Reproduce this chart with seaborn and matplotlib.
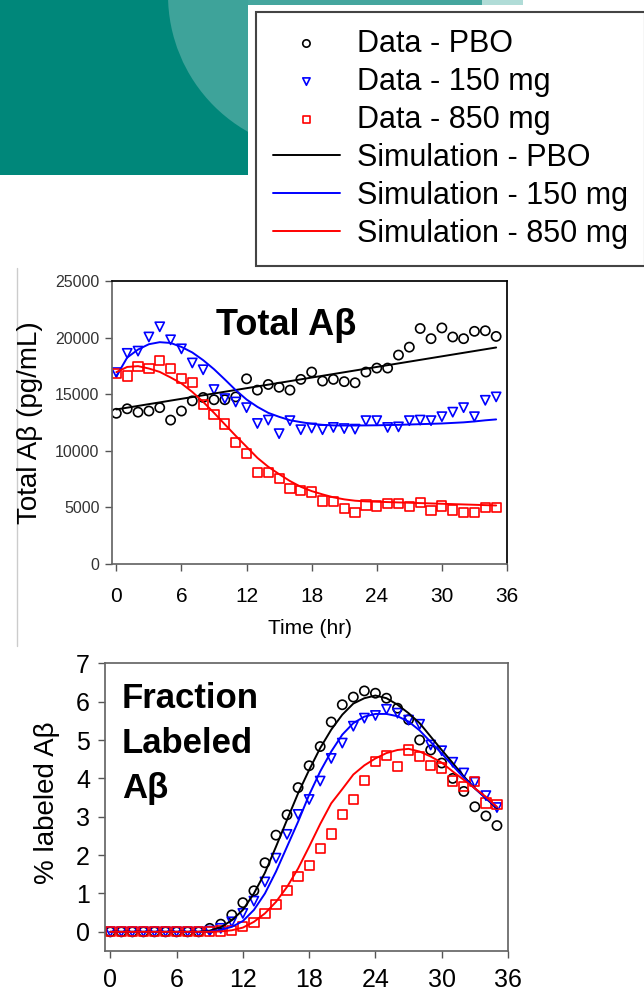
import matplotlib
matplotlib.use("Agg")
import matplotlib.pyplot as plt
from matplotlib.patches import Rectangle, Circle
import pandas as pd
import seaborn as sns

# hourly sampling times (hr)
hours = [0, 1, 2, 3, 4, 5, 6, 7, 8, 9, 10, 11, 12, 13, 14, 15, 16, 17,
         18, 19, 20, 21, 22, 23, 24, 25, 26, 27, 28, 29, 30, 31, 32, 33, 34, 35]
doses = ["PBO", "150 mg", "850 mg"]

# Total Abeta (pg/mL) - observed
tot_pbo = [13300, 13700, 13400, 13500, 13800, 12700, 13500, 14400, 14700, 14500, 14500, 14750,
           16350, 15350, 15850, 15600, 15350, 16300, 16950, 16150, 16300, 16100, 16000, 16950,
           17300, 17300, 18450, 19150, 20800, 19900, 20850, 20050, 19900, 20550, 20600, 20100]
tot_150 = [16900, 18600, 18800, 20050, 20950, 19800, 19000, 17750, 17150, 15400, 14600, 14300,
           13800, 12400, 12700, 11500, 12650, 11850, 12000, 11850, 12050, 11950, 11900, 12650,
           12650, 12050, 12100, 12650, 12700, 12650, 13000, 13400, 13800, 13000, 14450, 14750]
tot_850 = [16850, 16600, 17450, 17250, 18000, 17250, 16400, 16050, 14100, 13200, 12350, 10700,
           9750, 8050, 8050, 7500, 6650, 6500, 6350, 5550, 5500, 4850, 4550, 5200,
           5100, 5350, 5350, 5050, 5400, 4700, 5100, 4750, 4500, 4550, 4950, 4950]

# Total Abeta - simulation
sim_tot_pbo_hours = [0, 12, 24, 35]
sim_tot_pbo = [13640, 15520, 17400, 19120]
sim_tot_150 = [16580, 18230, 18940, 19410, 19590, 19520, 19170, 18680, 18000, 17200, 16290, 15350,
               14520, 13870, 13340, 12990, 12690, 12520, 12370, 12280, 12230, 12220, 12220, 12230,
               12240, 12260, 12280, 12310, 12340, 12370, 12400, 12450, 12500, 12580, 12680, 12760]
sim_tot_850 = [16940, 17400, 17470, 17260, 16960, 16470, 15940, 15190, 14310, 13340, 12320, 11310,
               10340, 9360, 8570, 7920, 7310, 6800, 6420, 6130, 5870, 5690, 5570, 5510,
               5480, 5450, 5420, 5390, 5360, 5330, 5300, 5270, 5240, 5210, 5180, 5150]

# % labeled Abeta - observed
frac_pbo = [0, 0, 0, 0, 0, 0, 0, 0, 0, 0.09, 0.20, 0.44, 0.76, 1.07, 1.80, 2.52, 3.05, 3.76,
            4.33, 4.83, 5.47, 5.92, 6.12, 6.28, 6.22, 6.09, 5.83, 5.53, 5.00, 4.74, 4.40, 4.00,
            3.66, 3.26, 3.02, 2.77]
frac_150 = [0, 0, 0, 0, 0, 0, 0, 0, 0, 0.02, 0.09, 0.26, 0.48, 0.80, 1.30, 1.92, 2.54, 3.06,
            3.45, 3.93, 4.52, 4.92, 5.36, 5.57, 5.64, 5.80, 5.70, 5.52, 5.41, 4.87, 4.72, 4.42,
            4.14, 3.90, 3.55, 3.24]
frac_850 = [0, 0, 0, 0, 0, 0, 0, 0, 0, 0, 0.02, 0.04, 0.14, 0.24, 0.47, 0.71, 1.07, 1.44,
            1.72, 2.18, 2.55, 3.05, 3.45, 3.95, 4.45, 4.59, 4.31, 4.74, 4.58, 4.34, 4.27, 3.93,
            3.78, 3.91, 3.36, 3.32]

# % labeled Abeta - simulation
sim_frac_pbo = [0, 0, 0, 0, 0, 0, 0, 0, 0, 0.03, 0.12, 0.30, 0.57, 1.00, 1.54, 2.22, 2.92, 3.61,
                4.22, 4.79, 5.27, 5.66, 5.95, 6.09, 6.16, 6.09, 5.92, 5.70, 5.44, 5.09, 4.74, 4.40,
                4.05, 3.74, 3.48, 3.22]
sim_frac_150 = [0, 0, 0, 0, 0, 0, 0, 0, 0, 0.01, 0.05, 0.13, 0.28, 0.57, 1.00, 1.57, 2.22, 2.87,
                3.57, 4.18, 4.70, 5.14, 5.44, 5.61, 5.68, 5.68, 5.62, 5.48, 5.25, 4.95, 4.65, 4.33,
                4.02, 3.74, 3.48, 3.24]
sim_frac_850 = [0, 0, 0, 0, 0, 0, 0, 0, 0, 0, 0.01, 0.04, 0.11, 0.26, 0.48, 0.78, 1.17, 1.65,
                2.22, 2.81, 3.35, 3.72, 4.10, 4.34, 4.52, 4.66, 4.74, 4.77, 4.70, 4.57, 4.41, 4.18,
                3.96, 3.74, 3.52, 3.26]

colors = {"PBO": "black", "150 mg": "#0000ff", "850 mg": "#ff0000"}
markers = {"PBO": "o", "150 mg": "v", "850 mg": "s"}

obs = pd.DataFrame({
    "hour": hours * 3,
    "dose": [d for d in doses for _ in hours],
    "total": tot_pbo + tot_150 + tot_850,
    "frac": frac_pbo + frac_150 + frac_850,
})
sim = pd.DataFrame({
    "hour": hours * 3,
    "dose": [d for d in doses for _ in hours],
    "frac": sim_frac_pbo + sim_frac_150 + sim_frac_850,
})
sim_tot = {
    "PBO": (sim_tot_pbo_hours, sim_tot_pbo),
    "150 mg": (hours, sim_tot_150),
    "850 mg": (hours, sim_tot_850),
}

sns.set_theme(style="ticks")
plt.rcParams["font.family"] = ["Liberation Sans", "DejaVu Sans"]
plt.rcParams["text.color"] = "black"
plt.rcParams["axes.labelcolor"] = "black"
plt.rcParams["xtick.labelcolor"] = "black"
plt.rcParams["ytick.labelcolor"] = "black"

W, H = 644, 993
fig = plt.figure(figsize=(W / 100, H / 100), dpi=100)

# slide background decoration
bg = fig.add_axes([0, 0, 1, 1], zorder=-10)
bg.set_xlim(0, W)
bg.set_ylim(H, 0)
bg.axis("off")
teal = Rectangle((0, 0), 248, 175, color="#00877a", lw=0)
bg.add_patch(teal)
circ = Circle((325, -5), 157, color="#3ea39a", lw=0)
bg.add_patch(circ)
circ.set_clip_path(teal)
bg.add_patch(Rectangle((248, 0), 234, 5, color="#45a69e", lw=0))
bg.add_patch(Rectangle((482, 0), 41, 5, color="#b0dcd7", lw=0))
bg.plot([17, 17], [268, 646], color="#cccccc", lw=1)


def px(x0, y0, x1, y1):
    return [x0 / W, 1 - y1 / H, (x1 - x0) / W, (y1 - y0) / H]


# ---- top panel: Total Abeta ----
ax1 = fig.add_axes(px(112, 281, 507, 563.7))
for d in doses:
    sub = obs[obs["dose"] == d]
    sns.scatterplot(data=sub, x="hour", y="total", marker=markers[d], s=44,
                    color=colors[d], facecolors="none", edgecolor=colors[d],
                    linewidth=1.2, ax=ax1, label=f"Data - {d}", zorder=2)
for d in doses:
    xs, ys = sim_tot[d]
    sns.lineplot(x=xs, y=ys, color=colors[d], linewidth=1.4, ax=ax1,
                 label=f"Simulation - {d}", zorder=3)

ax1.set_xlim(-0.4, 36)
ax1.set_ylim(0, 25000)
ax1.set_xticks([0, 6, 12, 18, 24, 30, 36])
ax1.set_yticks([0, 5000, 10000, 15000, 20000, 25000])
ax1.tick_params(axis="both", direction="out", length=5, width=1, color="#555555")
ax1.tick_params(axis="x", labelsize=15, pad=12, labelcolor="black")
ax1.tick_params(axis="y", labelsize=11.5, pad=4, labelcolor="#333333")
ax1.set_xlabel("Time (hr)", fontsize=15, labelpad=9)
ax1.set_ylabel("Total Aβ (pg/mL)", fontsize=20)
ax1.yaxis.set_label_coords(-0.175, 0.5)
for s in ("left", "bottom"):
    ax1.spines[s].set_color("#666666")
for s in ("top", "right"):
    ax1.spines[s].set_color("black")

handles, labels = ax1.get_legend_handles_labels()
ax1.get_legend().remove()
order = [f"Data - {d}" for d in doses] + [f"Simulation - {d}" for d in doses]
hmap = dict(zip(labels, handles))

fig.text(216 / W, 1 - 335 / H, "Total Aβ", fontsize=26, fontweight="bold", va="baseline")

# ---- bottom panel: % labeled Abeta ----
ax2 = fig.add_axes(px(105.3, 663.3, 508, 951))
for d in doses:
    sub = obs[obs["dose"] == d]
    sns.scatterplot(data=sub, x="hour", y="frac", marker=markers[d], s=44,
                    color=colors[d], facecolors="none", edgecolor=colors[d],
                    linewidth=1.2, ax=ax2, legend=False, zorder=2)
for d in doses:
    sns.lineplot(data=sim[sim["dose"] == d], x="hour", y="frac", color=colors[d],
                 linewidth=1.4, ax=ax2, legend=False, zorder=3)

ax2.set_xlim(-0.45, 36)
ax2.set_ylim(-0.5, 7)
ax2.set_xticks([0, 6, 12, 18, 24, 30, 36])
ax2.set_yticks([0, 1, 2, 3, 4, 5, 6, 7])
ax2.tick_params(axis="both", direction="out", length=5, width=1, color="#555555", labelsize=18)
ax2.tick_params(axis="x", pad=7)
ax2.tick_params(axis="y", pad=6)
ax2.set_xlabel("")
ax2.set_ylabel("% labeled Aβ", fontsize=20)
ax2.yaxis.set_label_coords(-0.112, 0.514)
for s in ax2.spines.values():
    s.set_color("#666666")

for i, line in enumerate(["Fraction", "Labeled", "Aβ"]):
    fig.text(122 / W, 1 - (708 + 45 * i) / H, line, fontsize=25, fontweight="bold",
             va="baseline")

leg = fig.legend([hmap[k] for k in order], order, loc="upper left",
                 bbox_to_anchor=(256 / W, 1 - 11.7 / H), frameon=True, fancybox=False,
                 edgecolor="#444444", fontsize=22, handlelength=2.2, handletextpad=0.56,
                 labelspacing=0.265, borderpad=0.55, borderaxespad=0, scatterpoints=1,
                 markerscale=0.8, framealpha=1)
leg.get_frame().set_linewidth(1.5)

fig.savefig("out.png", dpi=100, facecolor="white")
